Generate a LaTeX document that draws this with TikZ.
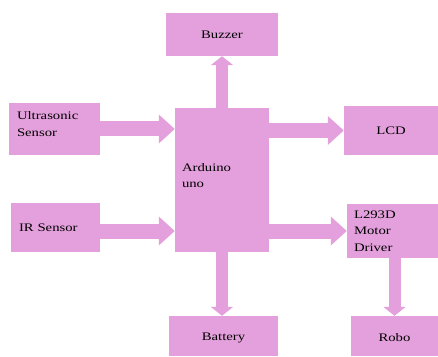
\documentclass[tikz,border=0pt]{standalone}
\usepackage{fontspec}
\setmainfont{Liberation Serif}[FakeStretch=1.28]
\usetikzlibrary{arrows.meta,positioning}
\definecolor{blockPink}{RGB}{228,160,220}

\begin{document}
\begin{tikzpicture}[
  x=1pt, y=1pt,
  box/.style={
    fill=blockPink,
    inner sep=0pt,
    font=\fontsize{11.5}{16.5}\selectfont
  },
  leftbox/.style={box, inner xsep=8pt, align=left},
  harrow/.style={-{Triangle[length=16pt,width=28pt]}, line width=15pt, blockPink},
  varrow/.style={-{Triangle[length=9pt,width=22pt]}, line width=12pt, blockPink}
]
  \useasboundingbox (0,0) rectangle (438,356);
  % blocks
  \node[box, minimum width=112pt, minimum height=43pt] (buzzer) at (222,321.5) {Buzzer};
  \node[leftbox, text width=75pt, minimum height=52pt, text depth=26pt] (ultra) at (54.5,227)
    {Ultrasonic\\Sensor};
  \node[leftbox, inner xsep=7pt, text width=80pt, minimum height=144pt, text depth=25pt] (arduino) at (222,176)
    {Arduino\\uno};
  \node[box, minimum width=94pt, minimum height=49pt] (lcd) at (391,225.5) {LCD};
  \node[leftbox, text width=73pt, minimum height=49pt] (ir) at (55.5,128.5) {IR Sensor};
  \node[leftbox, inner xsep=7pt, text width=77pt, minimum height=54pt] (driver) at (392.5,125)
    {L293D\\Motor\\Driver};
  \node[box, minimum width=109pt, minimum height=40pt, text height=11pt] (battery) at (223.5,20) {Battery};
  \node[box, minimum width=87pt, minimum height=40pt, text height=11pt] (robo) at (394.5,20) {Robo};
  % connections
  \draw[varrow] (arduino.north) -- (buzzer.south);
  \draw[harrow] (ultra.east) -- (ultra.east -| arduino.west);
  \draw[harrow] (lcd.west -| arduino.east) -- (lcd.west);
  \draw[harrow] (ir.east |- driver.west) -- (arduino.west |- driver.west);
  \draw[harrow] (arduino.east |- driver.west) -- (driver.west);
  \draw[varrow] (arduino.south) -- (arduino.south |- battery.north);
  \draw[varrow] (driver.south -| robo.north) -- (robo.north);
\end{tikzpicture}
\end{document}
